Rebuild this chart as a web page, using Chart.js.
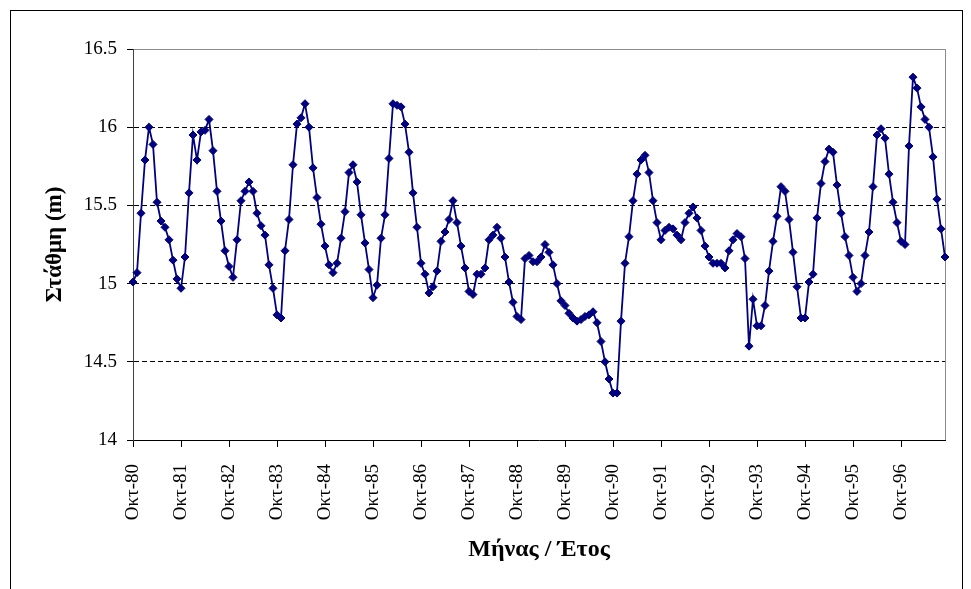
<!DOCTYPE html>
<html>
<head>
<meta charset="utf-8">
<script src="https://cdn.jsdelivr.net/npm/chart.js@4.4.0/dist/chart.umd.min.js"></script>
<style>
  body { margin: 0; background: #fff; }
  #wrap { position: relative; width: 971px; height: 589px; overflow: hidden; }
  #frame { position: absolute; left: 10px; top: 10px; width: 953px; height: 600px; border: 1.5px solid #000; box-sizing: border-box; }
  canvas { position: absolute; left: 0; top: 0; }
</style>
</head>
<body>
<div id="wrap">
  <div id="frame"></div>
  <canvas id="myChart" width="971" height="589"></canvas>
</div>
<script>
const ctx = document.getElementById('myChart');

// hydrological months, Oct-80 .. Sep-97
const monthNames = ['Οκτ', 'Νοε', 'Δεκ', 'Ιαν', 'Φεβ', 'Μαρ', 'Απρ', 'Μαϊ', 'Ιουν', 'Ιουλ', 'Αυγ', 'Σεπ'];
const tickLabels = ['Οκτ-80', 'Οκτ-81', 'Οκτ-82', 'Οκτ-83', 'Οκτ-84', 'Οκτ-85', 'Οκτ-86', 'Οκτ-87', 'Οκτ-88',
  'Οκτ-89', 'Οκτ-90', 'Οκτ-91', 'Οκτ-92', 'Οκτ-93', 'Οκτ-94', 'Οκτ-95', 'Οκτ-96'];
const yTicks = [14, 14.5, 15, 15.5, 16, 16.5];

// water level (m), one value per month
const stage = [
  15.01, 15.07, 15.45, 15.79, 16.00, 15.89, 15.52, 15.40, 15.36, 15.28, 15.15, 15.03,
  14.97, 15.17, 15.58, 15.95, 15.79, 15.97, 15.98, 16.05, 15.85, 15.59, 15.40, 15.21,
  15.11, 15.04, 15.28, 15.53, 15.59, 15.65, 15.59, 15.45, 15.37, 15.31, 15.12, 14.97,
  14.80, 14.78, 15.21, 15.41, 15.76, 16.02, 16.06, 16.15, 16.00, 15.74, 15.55, 15.38,
  15.24, 15.12, 15.07, 15.13, 15.29, 15.46, 15.71, 15.76, 15.65, 15.44, 15.26, 15.09,
  14.91, 14.99, 15.29, 15.44, 15.80, 16.15, 16.14, 16.13, 16.02, 15.84, 15.58, 15.36,
  15.13, 15.06, 14.94, 14.98, 15.08, 15.27, 15.33, 15.41, 15.53, 15.39, 15.24, 15.10,
  14.95, 14.93, 15.06, 15.06, 15.10, 15.28, 15.31, 15.36, 15.29, 15.17, 15.01, 14.88,
  14.79, 14.77, 15.16, 15.18, 15.14, 15.14, 15.17, 15.25, 15.20, 15.12, 15.00, 14.89,
  14.86, 14.81, 14.78, 14.76, 14.77, 14.79, 14.80, 14.82, 14.75, 14.63, 14.50, 14.39,
  14.30, 14.30, 14.76, 15.13, 15.30, 15.53, 15.70, 15.79, 15.82, 15.71, 15.53, 15.39,
  15.28, 15.34, 15.36, 15.35, 15.31, 15.28, 15.39, 15.45, 15.49, 15.42, 15.34, 15.24,
  15.17, 15.13, 15.13, 15.13, 15.10, 15.21, 15.28, 15.32, 15.30, 15.16, 14.60, 14.90,
  14.73, 14.73, 14.86, 15.08, 15.27, 15.43, 15.62, 15.59, 15.41, 15.20, 14.98, 14.78,
  14.78, 15.01, 15.06, 15.42, 15.64, 15.78, 15.86, 15.84, 15.63, 15.45, 15.30, 15.18,
  15.04, 14.95, 15.00, 15.18, 15.33, 15.62, 15.95, 15.99, 15.93, 15.70, 15.52, 15.39,
  15.27, 15.25, 15.88, 16.32, 16.25, 16.13, 16.05, 16.00, 15.81, 15.54, 15.35, 15.17
];

const labels = stage.map((v, i) => monthNames[i % 12] + '-' + (80 + Math.floor((i + 9) / 12)));
const serif = "'Liberation Serif', 'Times New Roman', serif";

new Chart(ctx, {
  type: 'line',
  data: {
    labels: labels,
    datasets: [{
      data: stage,
      borderColor: '#000080',
      backgroundColor: '#000080',
      borderWidth: 1.8,
      pointStyle: 'rectRot',
      pointRadius: 4,
      pointBorderWidth: 1,
      lineTension: 0
    }]
  },
  options: {
    responsive: false,
    animation: false,
    layout: { padding: { left: 0, top: 49, right: 26, bottom: 0 } },
    plugins: { legend: { display: false }, tooltip: { enabled: false } },
    scales: {
      x: {
        offset: false,
        afterFit: s => { s.height = 149; s.paddingRight = 0; s.paddingLeft = 0; },
        border: { color: '#000', width: 1 },
        grid: {
          drawOnChartArea: true,
          color: c => c.index === stage.length - 1 ? '#8c8c8c' : 'rgba(0,0,0,0)',
          tickColor: c => c.index % 12 === 0 ? '#000' : 'rgba(0,0,0,0)',
          tickLength: 7
        },
        ticks: {
          autoSkip: false,
          minRotation: 90,
          maxRotation: 90,
          padding: 17,
          color: '#000',
          font: { family: serif, size: 19 },
          callback: (val, i) => i % 12 === 0 ? tickLabels[i / 12] : ''
        },
        title: {
          display: true,
          text: 'Μήνας / Έτος',
          color: '#000',
          font: { family: serif, size: 24, weight: 'bold' },
          padding: { top: 0, bottom: 25 }
        }
      },
      y: {
        min: yTicks[0],
        max: yTicks[yTicks.length - 1],
        afterFit: s => { s.width = 133; },
        border: {
          color: '#404040',
          width: 1,
          dash: c => (c.tick && c.tick.value === 16.5) ? [] : [5, 3]
        },
        grid: {
          color: c => c.tick.value === 16.5 ? '#8c8c8c' : (c.tick.value === 14 ? 'rgba(0,0,0,0)' : '#000'),
          tickColor: '#000',
          tickLength: 6
        },
        ticks: {
          stepSize: 0.5,
          padding: 10,
          color: '#000',
          font: { family: serif, size: 19 },
          callback: v => v.toString()
        },
        title: {
          display: true,
          text: 'Στάθμη (m)',
          color: '#000',
          font: { family: serif, size: 23, weight: 'bold' },
          padding: { top: 41, bottom: 0 }
        }
      }
    }
  }
});
</script>
</body>
</html>
